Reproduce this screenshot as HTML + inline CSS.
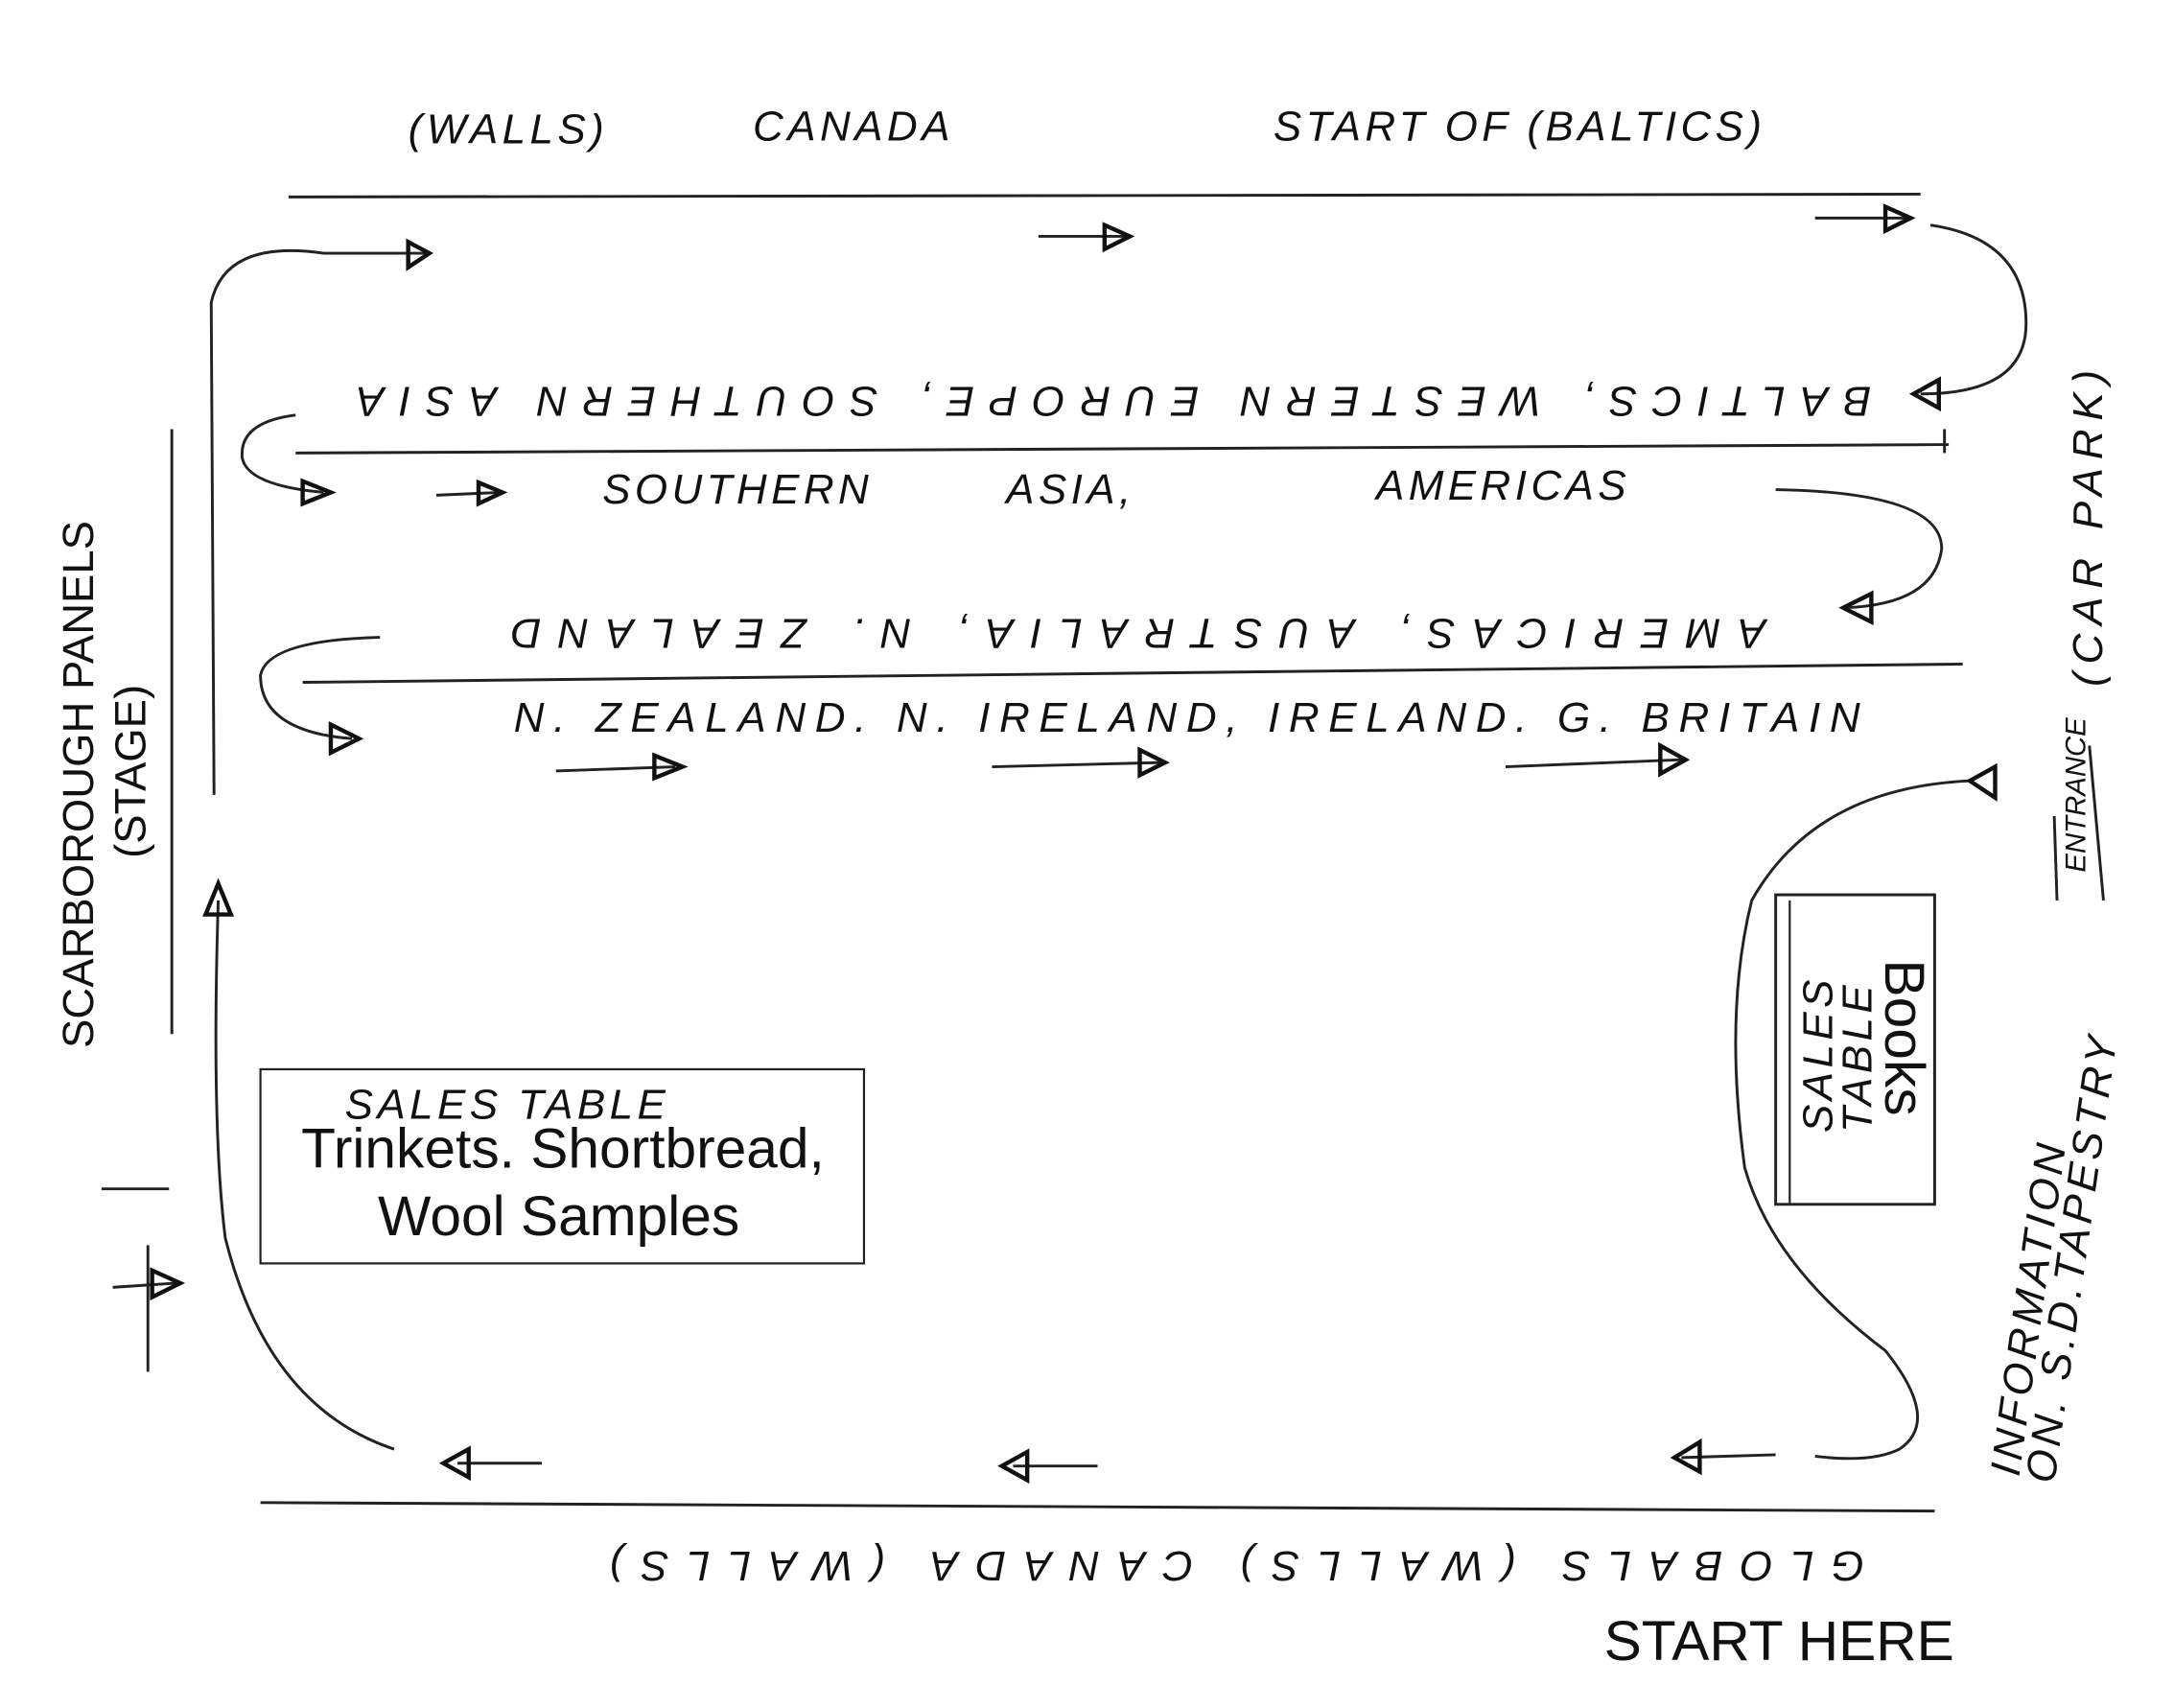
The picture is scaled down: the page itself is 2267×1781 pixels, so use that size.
<!DOCTYPE html>
<html><head><meta charset="utf-8"><style>
html,body{margin:0;padding:0;background:#fff}
svg{display:block}
text{font-family:"Liberation Sans",sans-serif;fill:#111}
.h{font-style:italic;font-size:30px;letter-spacing:3px}
</style></head><body>
<svg width="2267" height="1781" viewBox="0 0 1545 1214" xmlns="http://www.w3.org/2000/svg">
<g stroke="#222" stroke-width="2" fill="none">
<line x1="205" y1="140" x2="1365" y2="138"/>
<line x1="210" y1="322" x2="1385" y2="316"/>
<line x1="1382" y1="305" x2="1382" y2="322"/>
<line x1="215" y1="485" x2="1395" y2="472"/>
<line x1="122" y1="305" x2="122" y2="735"/>
<line x1="185" y1="1068" x2="1375" y2="1074"/>
<line x1="1485" y1="530" x2="1495" y2="640"/>
<line x1="1460" y1="580" x2="1462" y2="640"/>
<line x1="72" y1="845" x2="120" y2="845"/>
<line x1="80" y1="915" x2="125" y2="912"/>
<line x1="105" y1="885" x2="105" y2="975"/>
<path d="M152 565 L150 215 Q160 170 230 180 L305 180"/>
<path d="M1372 160 Q1440 170 1440 230 Q1440 280 1365 280"/>
<path d="M210 295 Q170 300 172 325 Q175 345 230 350"/>
<path d="M1262 348 Q1380 350 1380 390 Q1375 430 1310 432"/>
<path d="M270 453 Q190 455 185 480 Q185 520 250 525"/>
<path d="M1400 555 Q1290 560 1245 640 Q1225 720 1240 830 Q1260 900 1340 960 Q1380 1010 1350 1030 Q1330 1040 1290 1035"/>
<path d="M155 640 Q150 800 160 880 Q190 1000 280 1030"/>
<path d="M738 168 L800 168"/><path d="M1290 155 L1355 155"/>
<path d="M310 352 L355 350"/>
<path d="M395 548 L480 545"/><path d="M705 545 L825 542"/><path d="M1070 545 L1195 540"/>
<path d="M325 1040 L385 1040"/><path d="M720 1042 L780 1042"/><path d="M1195 1036 L1262 1034"/>
</g>
<g fill="none" stroke="#111" stroke-width="3">
<path d="M290 172 L305 180 L290 190 Z"/>
<path d="M785 160 L803 168 L785 177 Z"/>
<path d="M1340 147 L1358 155 L1340 164 Z"/>
<path d="M1378 270 L1360 280 L1378 290 Z"/>
<path d="M215 342 L235 350 L215 358 Z"/>
<path d="M340 343 L357 350 L340 358 Z"/>
<path d="M1330 422 L1310 432 L1330 442 Z"/>
<path d="M235 515 L255 525 L235 535 Z"/>
<path d="M465 537 L485 545 L465 553 Z"/>
<path d="M810 533 L828 542 L810 551 Z"/>
<path d="M1180 530 L1198 540 L1180 550 Z"/>
<path d="M1418 545 L1400 555 L1418 567 Z"/>
<path d="M146 650 L155 628 L164 650 Z"/>
<path d="M108 903 L128 912 L108 922 Z"/>
<path d="M333 1030 L315 1040 L333 1050 Z"/>
<path d="M730 1032 L712 1042 L730 1052 Z"/>
<path d="M1208 1025 L1190 1036 L1208 1046 Z"/>
</g>
<text class="h" x="290" y="102">(WALLS)</text>
<text class="h" x="535" y="100">CANADA</text>
<text class="h" x="905" y="100" font-size="26">START OF (BALTICS)</text>
<text class="h" transform="translate(1330,275) rotate(180)" font-size="32" textLength="1080">BALTICS, WESTERN EUROPE, SOUTHERN ASIA</text>
<text class="h" x="428" y="358" font-size="32">SOUTHERN</text>
<text class="h" x="715" y="358" font-size="36">ASIA,</text>
<text class="h" x="978" y="355" font-size="32">AMERICAS</text>
<text class="h" transform="translate(1255,440) rotate(180)" font-size="30" textLength="895">AMERICAS, AUSTRALIA, N. ZEALAND</text>
<text class="h" x="365" y="520" font-size="28" textLength="960">N. ZEALAND. N. IRELAND, IRELAND. G. BRITAIN</text>
<text class="h" transform="translate(1325,1103) rotate(180)" font-size="30" textLength="895">GLOBALS (WALLS) CANADA (WALLS)</text>
<text x="1140" y="1180" font-size="40">START HERE</text>
<text transform="translate(66,745) rotate(-90)" font-size="31">SCARBOROUGH  PANELS</text>
<text transform="translate(103,610) rotate(-90)" font-size="31">(STAGE)</text>
<rect x="185" y="760" width="429" height="138" fill="none" stroke="#222" stroke-width="1.5"/>
<text class="h" x="245" y="795" font-size="26" letter-spacing="1">SALES TABLE</text>
<text x="400" y="830" font-size="40" text-anchor="middle">Trinkets. Shortbread,</text>
<text x="397" y="878" font-size="40" text-anchor="middle">Wool Samples</text>
<rect x="1262" y="636" width="113" height="220" fill="none" stroke="#222" stroke-width="2"/>
<line x1="1272" y1="640" x2="1272" y2="855" stroke="#222" stroke-width="1.5"/>
<text transform="translate(1340,682) rotate(90)" font-size="40">Books</text>
<text class="h" transform="translate(1302,805) rotate(-90)" font-size="26" letter-spacing="1">SALES</text>
<text class="h" transform="translate(1330,805) rotate(-90)" font-size="26" letter-spacing="1">TABLE</text>
<text transform="translate(1482,620) rotate(-90)" font-size="20" font-style="italic">ENTRANCE</text>
<text class="h" transform="translate(1494,488) rotate(-90)" font-size="28" letter-spacing="1" textLength="228">(CAR PARK)</text>
<text class="h" transform="translate(1435,1050) rotate(-82)" font-size="22" letter-spacing="1">INFORMATION</text>
<text class="h" transform="translate(1460,1055) rotate(-82)" font-size="20" letter-spacing="1">ON. S.D.TAPESTRY</text>
</svg>
</body></html>
